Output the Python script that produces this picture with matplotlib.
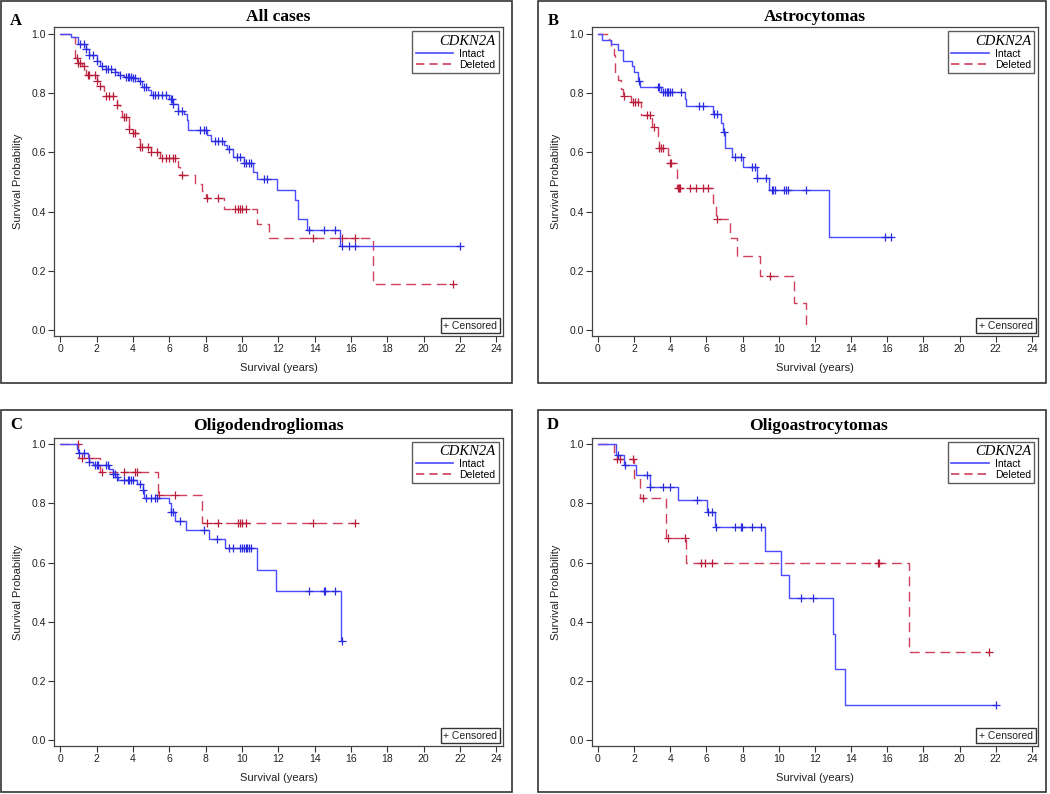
import numpy as np
import matplotlib
matplotlib.use("Agg")
import matplotlib.pyplot as plt
from matplotlib.lines import Line2D
from matplotlib.patches import Rectangle

# ---------------- data ----------------
# A: all cases
a_intact_t = [0, 0.6, 1.0, 1.4, 1.6, 2.0, 2.2, 2.5, 3.0, 3.2, 3.5, 4.0, 4.3, 4.5, 4.8, 5.0,
              6.0, 6.2, 6.5, 6.8, 7.0, 7.05, 8.1, 8.3, 9.0, 9.2, 9.5, 10.1, 10.6, 10.8, 11.9,
              12.9, 13.1, 13.6, 15.4]
a_intact_s = [1.0, 0.99, 0.965, 0.95, 0.93, 0.91, 0.89, 0.88, 0.87, 0.86, 0.855, 0.85, 0.84,
              0.82, 0.81, 0.795, 0.78, 0.765, 0.74, 0.73, 0.71, 0.675, 0.66, 0.64, 0.625, 0.61,
              0.585, 0.565, 0.535, 0.51, 0.475, 0.44, 0.375, 0.34, 0.285]
a_intact_c = [1.1, 1.3, 1.4, 1.6, 1.8, 2.0, 2.3, 2.5, 2.6, 2.8, 3.0, 3.3, 3.6, 3.7, 3.8, 3.9,
              4.0, 4.1, 4.4, 4.6, 4.7, 5.1, 5.2, 5.4, 5.6, 5.8, 6.1, 6.15, 6.2, 6.5, 6.7, 7.7,
              7.9, 8.0, 8.5, 8.7, 8.9, 9.3, 9.7, 9.9, 10.1, 10.2, 10.4, 10.5, 11.2, 11.4, 13.7,
              14.5, 15.1, 15.5, 15.9, 16.2, 22.0]
a_deleted_t = [0, 0.6, 0.8, 1.0, 1.2, 1.4, 2.0, 2.2, 2.4, 3.1, 3.3, 3.4, 3.8, 4.0, 4.3, 4.4,
               5.0, 5.5, 6.5, 6.6, 7.4, 7.8, 8.0, 9.0, 10.8, 11.5, 17.2]
a_deleted_s = [1.0, 0.99, 0.92, 0.90, 0.89, 0.86, 0.84, 0.825, 0.79, 0.76, 0.74, 0.72, 0.68,
               0.665, 0.645, 0.62, 0.60, 0.58, 0.55, 0.525, 0.495, 0.47, 0.445, 0.41, 0.36,
               0.31, 0.155]
a_deleted_c = [0.9, 1.0, 1.1, 1.3, 1.5, 1.6, 1.9, 2.0, 2.2, 2.5, 2.7, 2.9, 3.1, 3.5, 3.6, 3.8,
               4.0, 4.1, 4.4, 4.5, 4.8, 5.0, 5.3, 5.6, 5.8, 6.0, 6.2, 6.3, 6.7, 8.1, 8.7, 9.6,
               9.8, 9.9, 10.0, 10.2, 13.9, 15.5, 16.2, 21.6]

# B: astrocytomas
b_intact_t = [0, 0.2, 0.7, 1.1, 1.4, 1.9, 2.0, 2.2, 2.3, 3.5, 4.8, 4.85, 6.35, 6.8, 6.9, 7.0,
              7.4, 8.0, 8.8, 9.45, 12.75]
b_intact_s = [1.0, 0.98, 0.965, 0.945, 0.91, 0.89, 0.87, 0.84, 0.82, 0.805, 0.78, 0.755, 0.73,
              0.70, 0.67, 0.615, 0.585, 0.55, 0.515, 0.475, 0.315]
b_intact_c = [2.25, 3.3, 3.35, 3.6, 3.7, 3.8, 3.85, 3.9, 4.0, 4.1, 4.6, 5.6, 5.8, 6.4, 6.6,
              6.95, 7.6, 7.9, 8.5, 8.7, 8.8, 9.3, 9.6, 9.7, 9.8, 10.3, 10.4, 10.5, 11.5, 15.9, 16.2]
b_deleted_t = [0, 0.6, 0.7, 0.9, 0.95, 1.1, 1.3, 1.4, 1.8, 2.4, 3.0, 3.3, 3.4, 3.9, 4.0, 4.35,
               6.35, 6.5, 7.3, 7.7, 8.95, 10.85, 11.5]
b_deleted_s = [1.0, 0.98, 0.95, 0.93, 0.865, 0.845, 0.815, 0.79, 0.77, 0.726, 0.685, 0.655,
               0.615, 0.59, 0.565, 0.48, 0.43, 0.375, 0.31, 0.25, 0.185, 0.092, 0.0]
b_deleted_c = [1.45, 1.95, 2.05, 2.2, 2.7, 2.9, 3.1, 3.4, 3.5, 3.6, 4.0, 4.05, 4.4, 4.5, 4.55,
               5.1, 5.4, 5.8, 6.1, 6.6, 9.5]

# C: oligodendrogliomas
c_intact_t = [0, 0.9, 1.0, 1.5, 1.6, 1.8, 2.7, 2.9, 3.1, 3.2, 4.2, 4.55, 4.6, 6.0, 6.1, 6.3,
              6.9, 8.2, 9.05, 10.85, 11.85, 15.45]
c_intact_s = [1.0, 0.985, 0.97, 0.955, 0.94, 0.93, 0.915, 0.90, 0.89, 0.88, 0.865, 0.845, 0.82,
              0.80, 0.77, 0.74, 0.71, 0.68, 0.65, 0.575, 0.505, 0.335]
c_intact_c = [1.05, 1.3, 1.6, 1.9, 2.0, 2.1, 2.5, 2.6, 2.9, 3.0, 3.1, 3.5, 3.7, 3.8, 3.9, 4.0,
              4.4, 4.55, 4.7, 5.0, 5.2, 5.3, 6.1, 6.2, 6.6, 7.9, 8.6, 9.3, 9.5, 9.9, 10.0, 10.1,
              10.2, 10.3, 10.4, 10.5, 13.7, 14.5, 14.55, 15.1, 15.5]
c_deleted_t = [0, 1.0, 2.2, 5.4, 7.8]
c_deleted_s = [1.0, 0.955, 0.905, 0.83, 0.735]
c_deleted_c = [0.95, 1.2, 1.6, 2.3, 3.5, 4.1, 4.2, 5.45, 6.3, 8.1, 8.7, 9.8, 9.9, 10.0, 10.2,
               13.9, 16.2]

# D: oligoastrocytomas
d_intact_t = [0, 1.0, 1.45, 2.1, 2.9, 4.4, 6.05, 6.45, 9.25, 10.1, 10.55, 13.0, 13.1, 13.65]
d_intact_s = [1.0, 0.965, 0.93, 0.895, 0.855, 0.81, 0.77, 0.72, 0.64, 0.56, 0.48, 0.36, 0.24, 0.12]
d_intact_c = [1.1, 1.5, 2.7, 2.9, 3.6, 4.0, 5.5, 6.1, 6.3, 6.5, 7.6, 7.9, 7.95, 8.5, 9.0, 11.2,
              11.9, 22.0]
d_deleted_t = [0, 0.9, 2.0, 2.3, 3.75, 4.85, 17.2]
d_deleted_s = [1.0, 0.95, 0.885, 0.82, 0.685, 0.60, 0.30]
d_deleted_c = [1.05, 1.2, 1.95, 2.5, 3.85, 4.8, 5.7, 5.9, 6.3, 15.5, 15.55, 21.6]

panel_letters = ["A", "B", "C", "D"]
panel_titles = ["All cases", "Astrocytomas", "Oligodendrogliomas", "Oligoastrocytomas"]
x_ticks = list(range(0, 25, 2))
y_ticks = [0.0, 0.2, 0.4, 0.6, 0.8, 1.0]

panels = [
    (a_intact_t, a_intact_s, a_intact_c, a_deleted_t, a_deleted_s, a_deleted_c),
    (b_intact_t, b_intact_s, b_intact_c, b_deleted_t, b_deleted_s, b_deleted_c),
    (c_intact_t, c_intact_s, c_intact_c, c_deleted_t, c_deleted_s, c_deleted_c),
    (d_intact_t, d_intact_s, d_intact_c, d_deleted_t, d_deleted_s, d_deleted_c),
]

BLUE = "#4a4aff"
BLUE_DARK = "#2a2ae0"
RED = "#d0405a"
RED_DARK = "#b81c38"
SANS = "Liberation Sans"
SERIF = "Liberation Serif"

W, H = 1050, 794
fig = plt.figure(figsize=(10.5, 7.94), dpi=100)


def fx(px):
    return px / W


def fy(py):
    return 1 - py / H


# axes boxes in pixels: left, top, right, bottom
ax_px = [(54.3, 27.3, 502.7, 336), (592, 27.3, 1038.3, 336),
         (54.3, 437.7, 502.7, 746), (592, 437.7, 1038.3, 746)]
# outer panel frames
frame_px = [(1, 1, 512, 383), (538, 1, 1046, 383), (1, 410, 512, 792), (538, 410, 1046, 792)]
letter_px = [(16, 21), (553, 21), (16, 425), (553, 425)]
title_px = [(278, 17), (815, 17), (268, 426), (818, 426)]


def draw_curve(ax, t, s, cens, line_color, mark_color, dashes):
    t = np.asarray(t, float)
    s = np.asarray(s, float)
    end = max(max(cens), t[-1])
    tt = np.append(t, end)
    ss = np.append(s, s[-1])
    if s[-1] == 0:
        tt, ss = t, s
    ln, = ax.step(tt, ss, where="post", color=line_color, lw=1.0)
    if dashes:
        ln.set_dashes([7, 4])
    cy = s[np.searchsorted(t, cens, side="right") - 1]
    ax.plot(cens, cy, "+", color=mark_color, ms=6, mew=0.9, linestyle="none")


for i, (it, is_, ic, dt, ds, dc) in enumerate(panels):
    l, t, r, b = ax_px[i]
    ax = fig.add_axes([fx(l), fy(b), (r - l) / W, (b - t) / H])
    draw_curve(ax, dt, ds, dc, RED, RED_DARK, True)
    draw_curve(ax, it, is_, ic, BLUE, BLUE_DARK, False)

    ax.set_xlim(-0.33, 24.35)
    ax.set_ylim(-0.019, 1.022)
    ax.set_xticks(x_ticks)
    ax.set_yticks(y_ticks)
    ax.set_yticklabels(["%.1f" % v for v in y_ticks])
    ax.tick_params(direction="out", length=4, width=0.8, color="#333333",
                   labelsize=7.5, pad=2)
    for lab in ax.get_xticklabels() + ax.get_yticklabels():
        lab.set_family(SANS)
        lab.set_color("#222222")
    for sp in ax.spines.values():
        sp.set_color("#444444")
        sp.set_linewidth(0.9)
    ax.set_xlabel("Survival (years)", family=SANS, fontsize=8, labelpad=6, color="#222222")
    ax.set_ylabel("Survival Probability", family=SANS, fontsize=8, labelpad=6, color="#222222")

    handles = [Line2D([], [], color=BLUE, lw=1.2),
               Line2D([], [], color=RED, lw=1.2, dashes=[5, 3])]
    leg = ax.legend(handles, ["Intact", "Deleted"], loc="upper right",
                    title="CDKN2A", fancybox=False, frameon=True, edgecolor="#333333",
                    prop={"family": SANS, "size": 7.5}, handlelength=3.6,
                    borderaxespad=0.4, borderpad=0.3, labelspacing=0.1, handletextpad=0.6)
    leg.get_frame().set_linewidth(1.0)
    leg.get_title().set_fontfamily(SERIF)
    leg.get_title().set_fontstyle("italic")
    leg.get_title().set_fontsize(10.5)
    leg._legend_box.align = "right"

    ax.text(0.988, 0.017, "+ Censored", transform=ax.transAxes, ha="right", va="bottom",
            family=SANS, fontsize=7.5, color="#222222",
            bbox=dict(boxstyle="square,pad=0.25", fc="white", ec="#333333", lw=1.0))

    fl, ft, fr, fb = frame_px[i]
    fig.add_artist(Rectangle((fx(fl), fy(fb)), (fr - fl) / W, (fb - ft) / H,
                             transform=fig.transFigure, fill=False, ec="#333333", lw=1.2))
    lx, ly = letter_px[i]
    fig.text(fx(lx), fy(ly), panel_letters[i], family=SERIF, weight="bold", fontsize=12,
             ha="center", va="center")
    tx, ty = title_px[i]
    fig.text(fx(tx), fy(ty), panel_titles[i], family=SERIF, weight="bold", fontsize=12.5,
             ha="center", va="center")

fig.savefig("out.png", dpi=100)
